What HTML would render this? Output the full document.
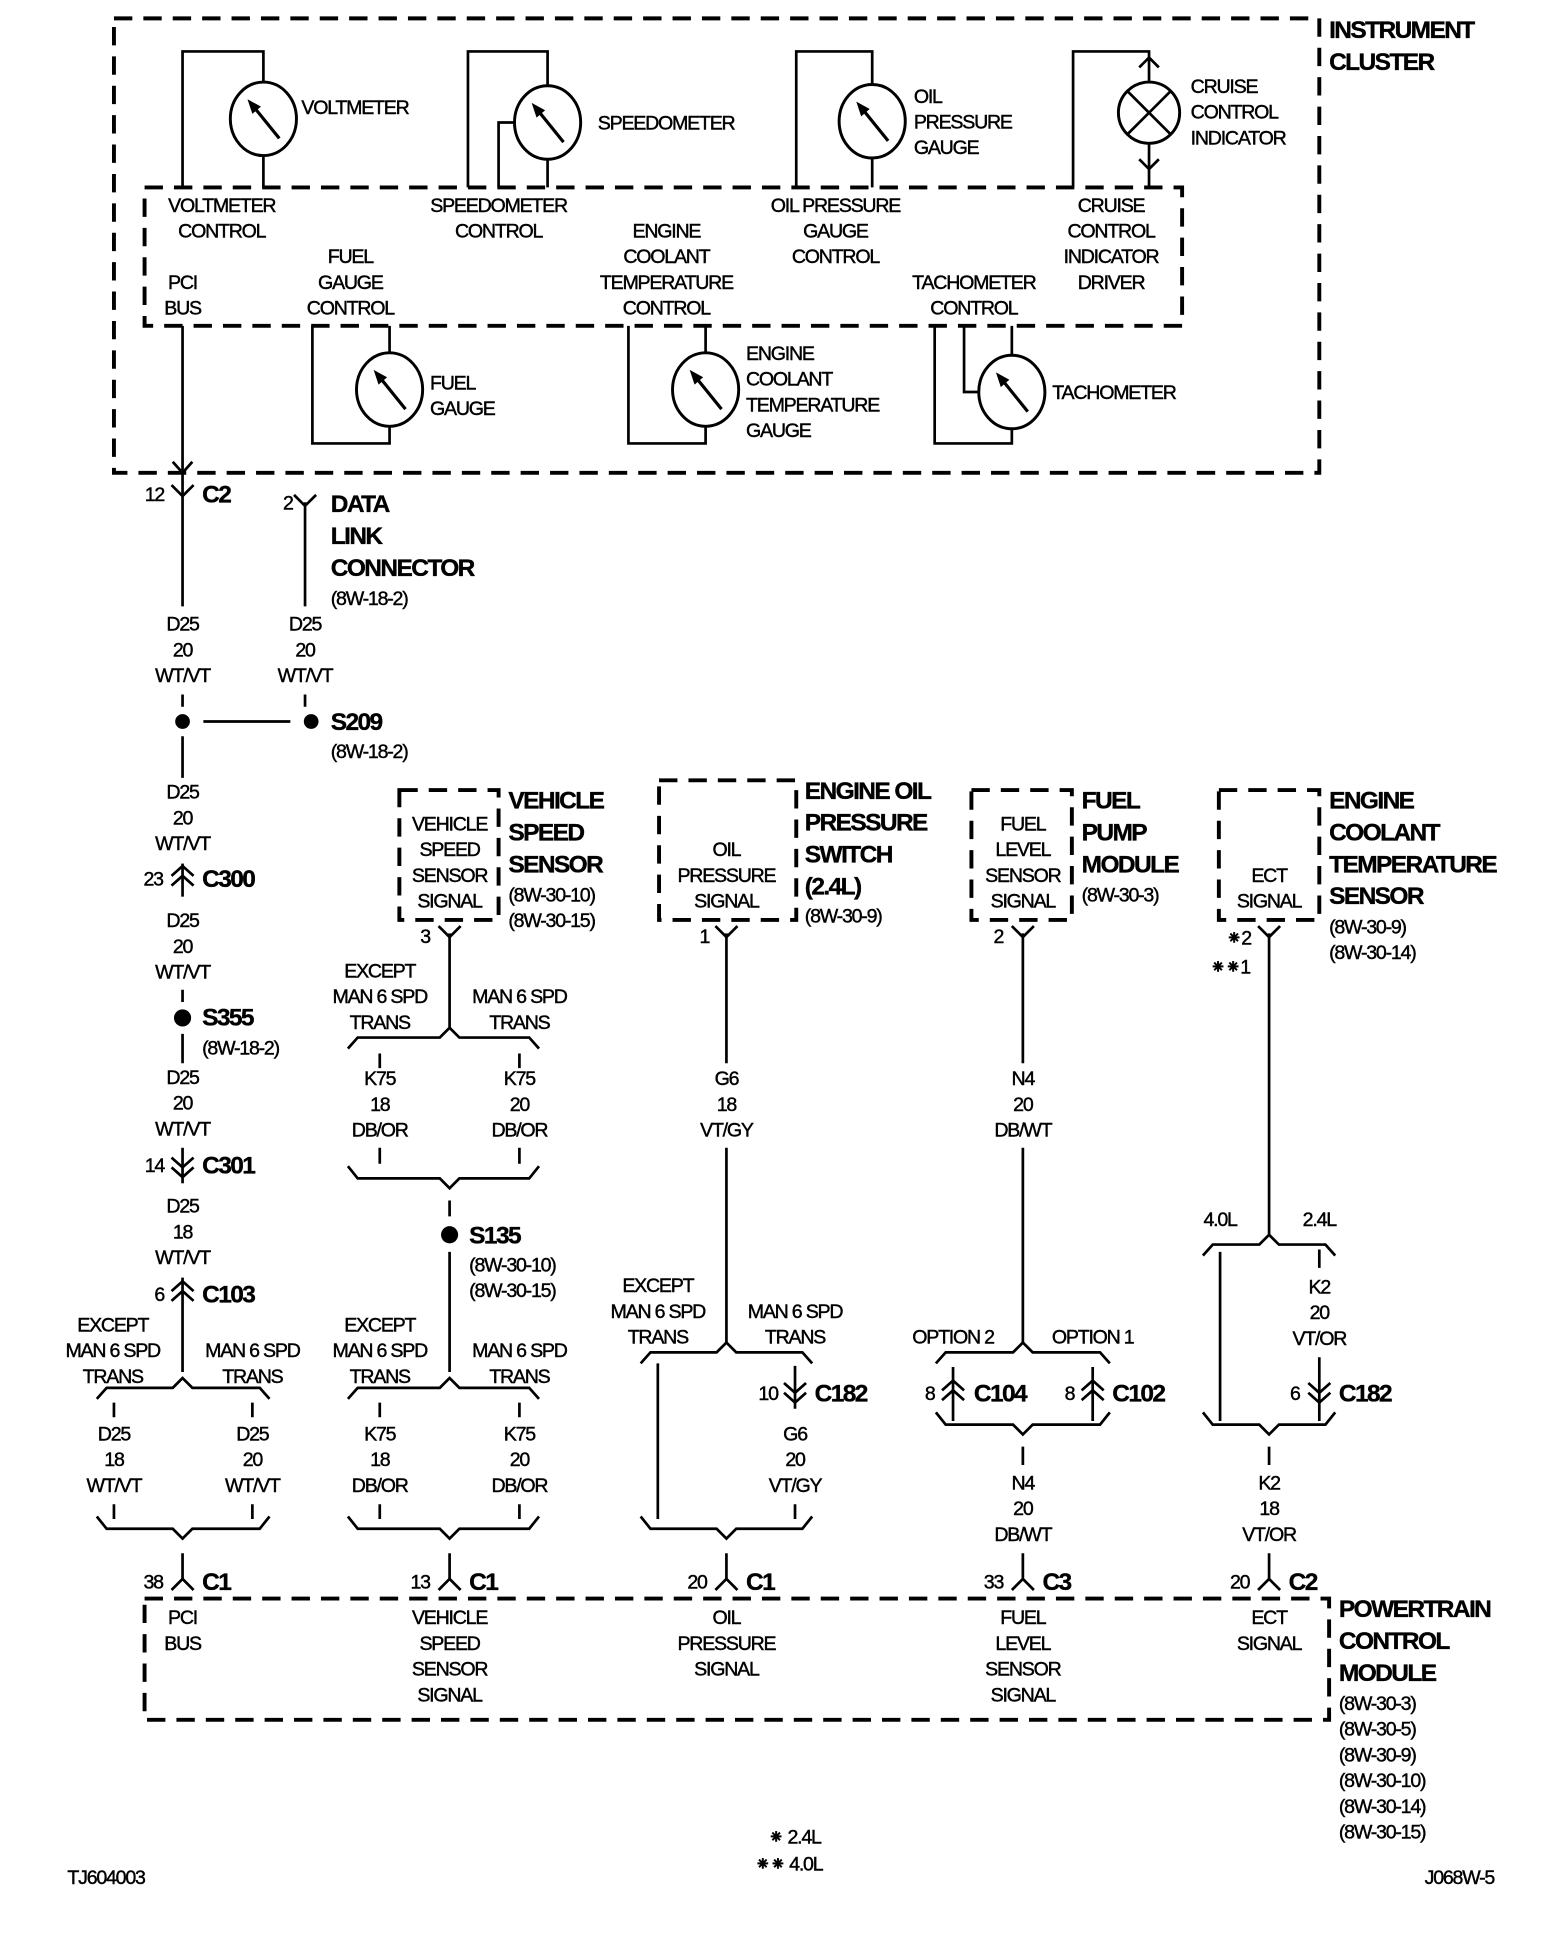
<!DOCTYPE html>
<html><head><meta charset="utf-8"><style>
html,body{margin:0;padding:0;background:#fff}
svg{display:block}
text{font-family:"Liberation Sans",sans-serif;font-size:16px;letter-spacing:-1px;text-anchor:middle;dominant-baseline:central;fill:#000;stroke:#000;stroke-width:0.35}
text.l{text-anchor:start}
text.b{font-size:20px;font-weight:bold;letter-spacing:-1.3px;text-anchor:start;stroke-width:0.3}
.w{fill:none;stroke:#000;stroke-width:2.2}
.d{fill:none;stroke:#000;stroke-width:3.2;stroke-dasharray:15 9}
</style></head><body>
<svg width="1568" height="1944" viewBox="0 0 1280 1587" xmlns="http://www.w3.org/2000/svg">
<defs>
<g id="gauge"><ellipse cx="0" cy="0" rx="27" ry="30" fill="#fff" stroke="#000" stroke-width="2.4"/><line x1="13" y1="16" x2="-8" y2="-10" stroke="#000" stroke-width="2.6"/><path d="M-13,-16 L-2,-10 L-9,-4 Z" fill="#000"/></g>
<g id="yc"><path d="M-9,-6 L0,3 L9,-6" class="w"/></g>
<g id="cup"><path d="M-9,-1 L0,-9 L9,-1 M-9,7 L0,-1 L9,7" class="w"/></g>
<g id="cdn"><path d="M-9,1 L0,9 L9,1 M-9,-7 L0,1 L9,-7" class="w"/></g>
<g id="c1"><path d="M-9,8 L0,-1 L9,8" class="w"/></g>
</defs>

<!-- Instrument cluster -->
<rect x="93" y="15" width="984" height="371" class="d"/>
<rect x="118" y="153" width="847" height="113" class="d"/>
<text class="b" x="1085" y="25">INSTRUMENT</text>
<text class="b" x="1085" y="51">CLUSTER</text>

<path class="w" d="M149,153 V42 H215 V67 M215,127 V153"/>
<use href="#gauge" x="215" y="97"/>
<text class="l" x="246" y="88">VOLTMETER</text>

<path class="w" d="M382,153 V42 H447 V70 M447,130 V153 M419,100 H407 V153"/>
<use href="#gauge" x="447" y="100"/>
<text class="l" x="488" y="101">SPEEDOMETER</text>

<path class="w" d="M650,153 V42 H712 V69 M712,129 V153"/>
<use href="#gauge" x="712" y="99"/>
<text class="l" x="746" y="79">OIL</text><text class="l" x="746" y="100">PRESSURE</text><text class="l" x="746" y="121">GAUGE</text>

<path class="w" d="M876,153 V42 H938 V66 M938,118 V153 M930,55 L938,47 L946,55 M930,130 L938,138 L946,130"/>
<circle cx="938" cy="92" r="25" fill="#fff" stroke="#000" stroke-width="2.4"/>
<path class="w" d="M920,74 L956,110 M956,74 L920,110"/>
<text class="l" x="972" y="71">CRUISE</text><text class="l" x="972" y="92">CONTROL</text><text class="l" x="972" y="113">INDICATOR</text>

<text x="181" y="168">VOLTMETER</text><text x="181" y="189">CONTROL</text>
<text x="407" y="168">SPEEDOMETER</text><text x="407" y="189">CONTROL</text>
<text x="682" y="168">OIL PRESSURE</text><text x="682" y="189">GAUGE</text><text x="682" y="210">CONTROL</text>
<text x="907" y="168">CRUISE</text><text x="907" y="189">CONTROL</text><text x="907" y="210">INDICATOR</text><text x="907" y="231">DRIVER</text>
<text x="149" y="231">PCI</text><text x="149" y="252">BUS</text>
<text x="286" y="210">FUEL</text><text x="286" y="231">GAUGE</text><text x="286" y="252">CONTROL</text>
<text x="544" y="189">ENGINE</text><text x="544" y="210">COOLANT</text><text x="544" y="231">TEMPERATURE</text><text x="544" y="252">CONTROL</text>
<text x="795" y="231">TACHOMETER</text><text x="795" y="252">CONTROL</text>

<path class="w" d="M255,266 V362 H318 V348 M318,288 V266"/>
<use href="#gauge" x="318" y="318"/>
<text class="l" x="351" y="313">FUEL</text><text class="l" x="351" y="334">GAUGE</text>

<path class="w" d="M513,266 V362 H576 V348 M576,288 V266"/>
<use href="#gauge" x="576" y="318"/>
<text class="l" x="609" y="289">ENGINE</text><text class="l" x="609" y="310">COOLANT</text><text class="l" x="609" y="331">TEMPERATURE</text><text class="l" x="609" y="352">GAUGE</text>

<path class="w" d="M763,266 V362 H826 V350 M826,290 V266 M787,266 V320 H799"/>
<use href="#gauge" x="826" y="320"/>
<text class="l" x="859" y="321">TACHOMETER</text>

<!-- PCI column -->
<path class="w" d="M149,266 V495 M141,377 L149,386 L157,377"/>
<use href="#yc" x="149" y="402"/>
<text x="126" y="404">12</text><text class="b" x="165" y="404">C2</text>
<path class="w" d="M249,410 V495"/><use href="#yc" x="249" y="410"/>
<text x="235" y="411">2</text>
<text class="b" x="270" y="412">DATA</text><text class="b" x="270" y="438">LINK</text><text class="b" x="270" y="464">CONNECTOR</text>
<text class="l" x="270" y="489">(8W-18-2)</text>
<text x="149" y="510">D25</text><text x="149" y="531">20</text><text x="149" y="552">WT/VT</text>
<text x="249" y="510">D25</text><text x="249" y="531">20</text><text x="249" y="552">WT/VT</text>
<path class="w" d="M149,567 V577 M249,567 V577 M166,589 H237 M149,601 V635"/>
<circle cx="149" cy="589" r="6"/><circle cx="254" cy="589" r="6"/>
<text class="b" x="270" y="590">S209</text><text class="l" x="270" y="614">(8W-18-2)</text>

<text x="149" y="647">D25</text><text x="149" y="668">20</text><text x="149" y="689">WT/VT</text>
<path class="w" d="M149,705 V732"/><use href="#cup" x="149" y="716"/>
<text x="125" y="718">23</text><text class="b" x="165" y="718">C300</text>
<text x="149" y="752">D25</text><text x="149" y="773">20</text><text x="149" y="794">WT/VT</text>
<path class="w" d="M149,808 V818 M149,844 V868"/><circle cx="149" cy="831" r="7"/>
<text class="b" x="165" y="831">S355</text><text class="l" x="165" y="856">(8W-18-2)</text>
<text x="149" y="880">D25</text><text x="149" y="901">20</text><text x="149" y="922">WT/VT</text>
<path class="w" d="M149,937 V966"/><use href="#cdn" x="149" y="952"/>
<text x="126" y="952">14</text><text class="b" x="165" y="952">C301</text>
<text x="149" y="985">D25</text><text x="149" y="1006">18</text><text x="149" y="1027">WT/VT</text>
<path class="w" d="M149,1043 V1120"/><use href="#cup" x="149" y="1055"/>
<text x="130" y="1057">6</text><text class="b" x="165" y="1057">C103</text>
<text x="92" y="1082">EXCEPT</text><text x="92" y="1103">MAN 6 SPD</text><text x="92" y="1124">TRANS</text>
<text x="206" y="1103">MAN 6 SPD</text><text x="206" y="1124">TRANS</text>
<path class="w" d="M79,1142 L87,1133 H141 L149,1125 L157,1133 H212 L220,1142 M93,1145 V1157 M206,1145 V1157"/>
<text x="93" y="1171">D25</text><text x="93" y="1192">18</text><text x="93" y="1213">WT/VT</text>
<text x="206" y="1171">D25</text><text x="206" y="1192">20</text><text x="206" y="1213">WT/VT</text>
<path class="w" d="M93,1228 V1240 M206,1228 V1240 M79,1238 L87,1248 H141 L149,1256 L157,1248 H212 L220,1238 M149,1268 V1290"/>
<use href="#c1" x="149" y="1290"/>
<text x="125" y="1292">38</text><text class="b" x="165" y="1292">C1</text>

<!-- VSS column -->
<rect x="326" y="645" width="81" height="106" class="d"/>
<text x="367" y="673">VEHICLE</text><text x="367" y="694">SPEED</text><text x="367" y="715">SENSOR</text><text x="367" y="736">SIGNAL</text>
<text class="b" x="415" y="654">VEHICLE</text><text class="b" x="415" y="680">SPEED</text><text class="b" x="415" y="706">SENSOR</text>
<text class="l" x="415" y="731">(8W-30-10)</text><text class="l" x="415" y="752">(8W-30-15)</text>
<path class="w" d="M367,762 V840"/><use href="#yc" x="367" y="762"/><text x="347" y="765">3</text>
<text x="310" y="793">EXCEPT</text><text x="310" y="814">MAN 6 SPD</text><text x="310" y="835">TRANS</text>
<text x="424" y="814">MAN 6 SPD</text><text x="424" y="835">TRANS</text>
<path class="w" d="M284,856 L292,847 H359 L367,839 L375,847 H432 L440,856 M310,860 V872 M424,860 V872"/>
<text x="310" y="881">K75</text><text x="310" y="902">18</text><text x="310" y="923">DB/OR</text>
<text x="424" y="881">K75</text><text x="424" y="902">20</text><text x="424" y="923">DB/OR</text>
<path class="w" d="M310,937 V950 M424,937 V950 M284,952 L292,962 H359 L367,970 L375,962 H432 L440,952 M367,980 V993 M367,1022 V1120"/>
<circle cx="367" cy="1008" r="7"/>
<text class="b" x="383" y="1009">S135</text><text class="l" x="383" y="1033">(8W-30-10)</text><text class="l" x="383" y="1054">(8W-30-15)</text>
<text x="310" y="1082">EXCEPT</text><text x="310" y="1103">MAN 6 SPD</text><text x="310" y="1124">TRANS</text>
<text x="424" y="1103">MAN 6 SPD</text><text x="424" y="1124">TRANS</text>
<path class="w" d="M284,1142 L292,1133 H359 L367,1125 L375,1133 H432 L440,1142 M310,1145 V1157 M424,1145 V1157"/>
<text x="310" y="1171">K75</text><text x="310" y="1192">18</text><text x="310" y="1213">DB/OR</text>
<text x="424" y="1171">K75</text><text x="424" y="1192">20</text><text x="424" y="1213">DB/OR</text>
<path class="w" d="M310,1228 V1240 M424,1228 V1240 M284,1238 L292,1248 H359 L367,1256 L375,1248 H432 L440,1238 M367,1268 V1290"/>
<use href="#c1" x="367" y="1290"/>
<text x="343" y="1292">13</text><text class="b" x="383" y="1292">C1</text>

<!-- Oil column -->
<rect x="538" y="637" width="112" height="114" class="d"/>
<text x="593" y="694">OIL</text><text x="593" y="715">PRESSURE</text><text x="593" y="736">SIGNAL</text>
<text class="b" x="657" y="646">ENGINE OIL</text><text class="b" x="657" y="672">PRESSURE</text><text class="b" x="657" y="698">SWITCH</text><text class="b" x="657" y="724">(2.4L)</text>
<text class="l" x="657" y="748">(8W-30-9)</text>
<path class="w" d="M593,762 V868 M593,937 V1096"/><use href="#yc" x="593" y="762"/><text x="575" y="765">1</text>
<text x="593" y="881">G6</text><text x="593" y="902">18</text><text x="593" y="923">VT/GY</text>
<text x="537" y="1050">EXCEPT</text><text x="537" y="1071">MAN 6 SPD</text><text x="537" y="1092">TRANS</text>
<text x="649" y="1071">MAN 6 SPD</text><text x="649" y="1092">TRANS</text>
<path class="w" d="M523,1113 L531,1104 H585 L593,1096 L601,1104 H655 L663,1113 M537,1113 V1240 M649,1115 V1150"/>
<use href="#cdn" x="649" y="1136"/>
<text x="627" y="1138">10</text><text class="b" x="665" y="1138">C182</text>
<text x="649" y="1171">G6</text><text x="649" y="1192">20</text><text x="649" y="1213">VT/GY</text>
<path class="w" d="M649,1228 V1240 M523,1238 L531,1248 H585 L593,1256 L601,1248 H655 L663,1238 M593,1268 V1290"/>
<use href="#c1" x="593" y="1290"/>
<text x="569" y="1292">20</text><text class="b" x="609" y="1292">C1</text>

<!-- Fuel column -->
<rect x="793" y="645" width="82" height="106" class="d"/>
<text x="835" y="673">FUEL</text><text x="835" y="694">LEVEL</text><text x="835" y="715">SENSOR</text><text x="835" y="736">SIGNAL</text>
<text class="b" x="883" y="654">FUEL</text><text class="b" x="883" y="680">PUMP</text><text class="b" x="883" y="706">MODULE</text>
<text class="l" x="883" y="731">(8W-30-3)</text>
<path class="w" d="M835,762 V868 M835,937 V1096"/><use href="#yc" x="835" y="762"/><text x="815" y="765">2</text>
<text x="835" y="881">N4</text><text x="835" y="902">20</text><text x="835" y="923">DB/WT</text>
<text x="778" y="1092">OPTION 2</text><text x="892" y="1092">OPTION 1</text>
<path class="w" d="M764,1113 L772,1104 H827 L835,1096 L843,1104 H898 L906,1113 M778,1116 V1160 M892,1116 V1160"/>
<use href="#cup" x="778" y="1136"/><use href="#cup" x="892" y="1136"/>
<text x="759" y="1138">8</text><text class="b" x="795" y="1138">C104</text>
<text x="873" y="1138">8</text><text class="b" x="908" y="1138">C102</text>
<path class="w" d="M764,1153 L772,1163 H827 L835,1171 L843,1163 H898 L906,1153 M835,1181 V1196"/>
<text x="835" y="1211">N4</text><text x="835" y="1232">20</text><text x="835" y="1253">DB/WT</text>
<path class="w" d="M835,1268 V1290"/><use href="#c1" x="835" y="1290"/>
<text x="811" y="1292">33</text><text class="b" x="851" y="1292">C3</text>

<!-- ECT column -->
<rect x="995" y="645" width="82" height="106" class="d"/>
<text x="1036" y="715">ECT</text><text x="1036" y="736">SIGNAL</text>
<text class="b" x="1085" y="654">ENGINE</text><text class="b" x="1085" y="680">COOLANT</text><text class="b" x="1085" y="706">TEMPERATURE</text><text class="b" x="1085" y="732">SENSOR</text>
<text class="l" x="1085" y="757">(8W-30-9)</text><text class="l" x="1085" y="778">(8W-30-14)</text>
<path class="w" d="M1036,762 V1008"/><use href="#yc" x="1036" y="762"/>
<text x="1011" y="766">⁕2</text><text x="1004" y="790">⁕⁕1</text>
<text x="996" y="996">4.0L</text><text x="1077" y="996">2.4L</text>
<path class="w" d="M982,1025 L990,1016 H1028 L1036,1008 L1044,1016 H1082 L1090,1025 M996,1022 V1160 M1077,1020 V1035 M1077,1108 V1160"/>
<text x="1077" y="1051">K2</text><text x="1077" y="1072">20</text><text x="1077" y="1093">VT/OR</text>
<use href="#cdn" x="1077" y="1136"/>
<text x="1057" y="1138">6</text><text class="b" x="1093" y="1138">C182</text>
<path class="w" d="M982,1153 L990,1163 H1028 L1036,1171 L1044,1163 H1082 L1090,1153 M1036,1181 V1196"/>
<text x="1036" y="1211">K2</text><text x="1036" y="1232">18</text><text x="1036" y="1253">VT/OR</text>
<path class="w" d="M1036,1268 V1290"/><use href="#c1" x="1036" y="1290"/>
<text x="1012" y="1292">20</text><text class="b" x="1052" y="1292">C2</text>

<!-- PCM -->
<rect x="118" y="1305" width="967" height="99" class="d"/>
<text x="149" y="1321">PCI</text><text x="149" y="1342">BUS</text>
<text x="367" y="1321">VEHICLE</text><text x="367" y="1342">SPEED</text><text x="367" y="1363">SENSOR</text><text x="367" y="1384">SIGNAL</text>
<text x="593" y="1321">OIL</text><text x="593" y="1342">PRESSURE</text><text x="593" y="1363">SIGNAL</text>
<text x="835" y="1321">FUEL</text><text x="835" y="1342">LEVEL</text><text x="835" y="1363">SENSOR</text><text x="835" y="1384">SIGNAL</text>
<text x="1036" y="1321">ECT</text><text x="1036" y="1342">SIGNAL</text>
<text class="b" x="1093" y="1314">POWERTRAIN</text><text class="b" x="1093" y="1340">CONTROL</text><text class="b" x="1093" y="1366">MODULE</text>
<text class="l" x="1093" y="1391">(8W-30-3)</text><text class="l" x="1093" y="1412">(8W-30-5)</text><text class="l" x="1093" y="1433">(8W-30-9)</text>
<text class="l" x="1093" y="1454">(8W-30-10)</text><text class="l" x="1093" y="1475">(8W-30-14)</text><text class="l" x="1093" y="1496">(8W-30-15)</text>

<text class="l" x="627" y="1500">⁕ 2.4L</text>
<text class="l" x="616" y="1522">⁕⁕ 4.0L</text>
<text class="l" x="55" y="1533">TJ604003</text>
<text class="l" x="1163" y="1533">J068W-5</text>
</svg>
</body></html>
